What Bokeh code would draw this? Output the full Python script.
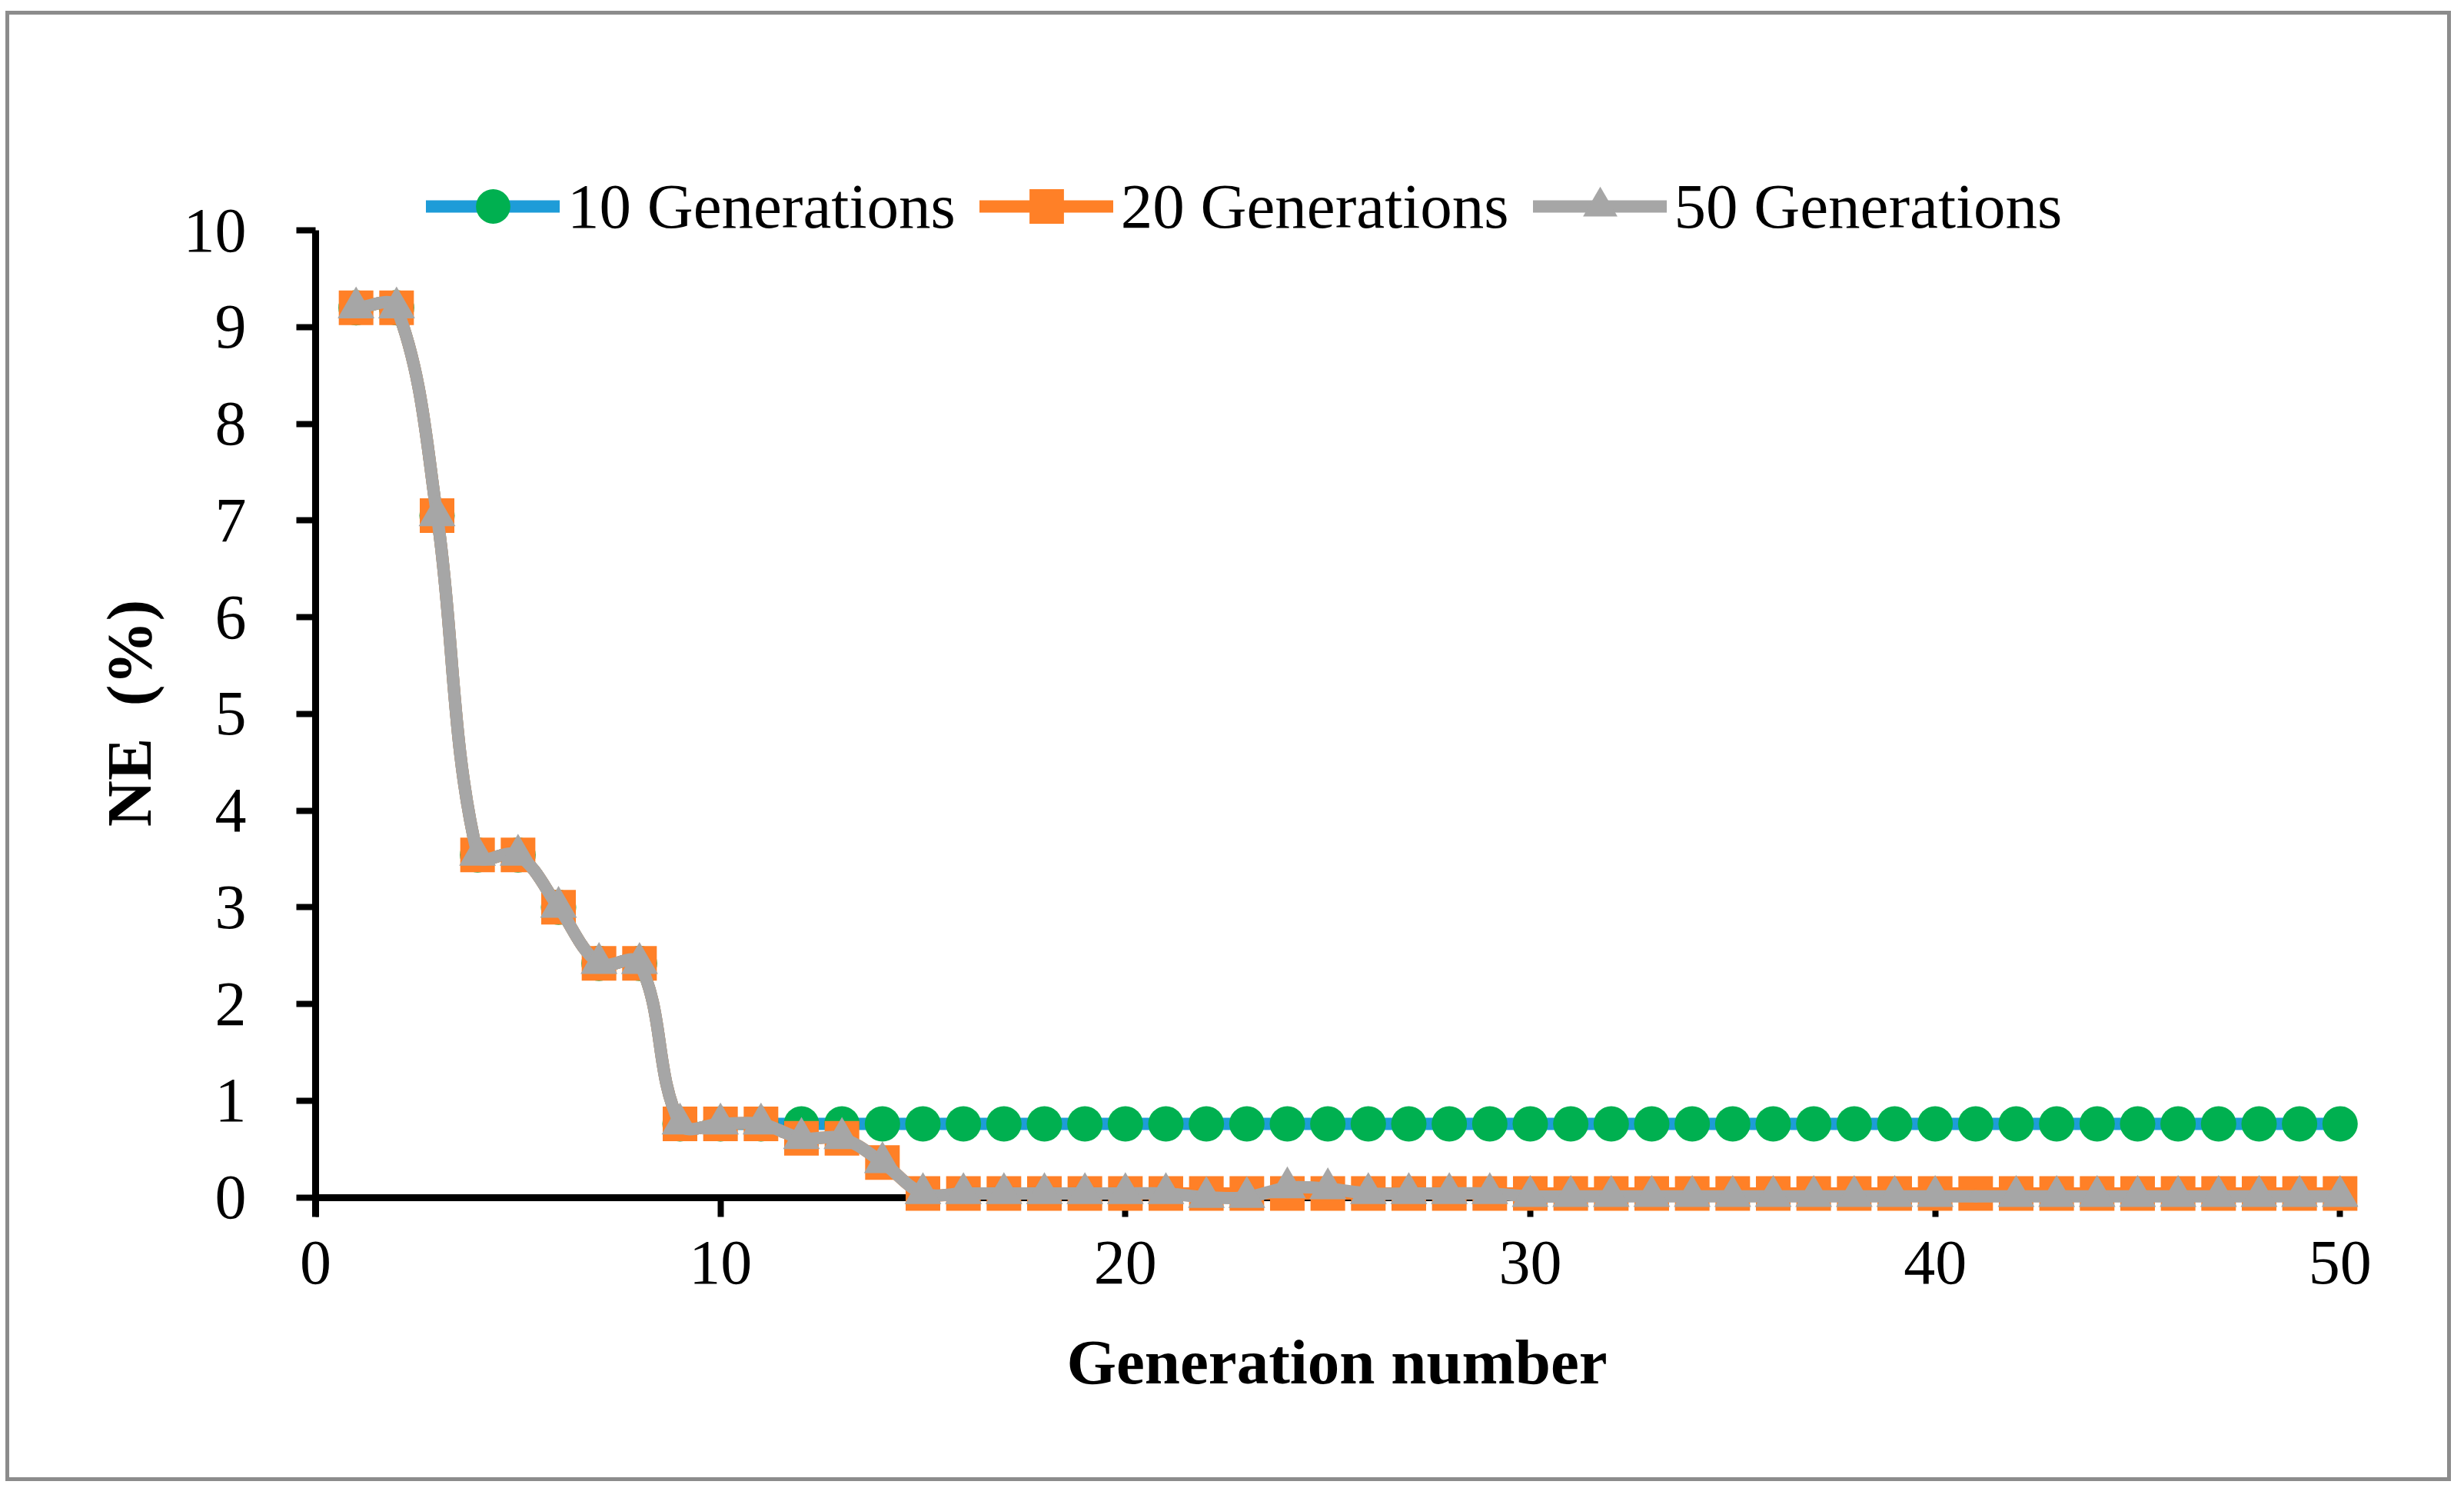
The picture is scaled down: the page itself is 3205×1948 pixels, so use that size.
import math
from bokeh.plotting import figure
from bokeh.layouts import column
from bokeh.models import (Range1d, SingleIntervalTicker, Legend, LegendItem,
                          ColumnDataSource, LinearAxis)
from bokeh.embed import file_html
from bokeh.resources import INLINE

# ---------------- data ----------------
generation = list(range(1, 51))

ne_10 = [9.2, 9.2, 7.05, 3.54, 3.54, 3.0, 2.42, 2.42, 0.76, 0.76,
         0.76, 0.76, 0.76, 0.76, 0.76, 0.76, 0.76, 0.76, 0.76, 0.76,
         0.76, 0.76, 0.76, 0.76, 0.76, 0.76, 0.76, 0.76, 0.76, 0.76,
         0.76, 0.76, 0.76, 0.76, 0.76, 0.76, 0.76, 0.76, 0.76, 0.76,
         0.76, 0.76, 0.76, 0.76, 0.76, 0.76, 0.76, 0.76, 0.76, 0.76]

ne_20 = [9.2, 9.2, 7.05, 3.54, 3.54, 3.0, 2.42, 2.42, 0.76, 0.76,
         0.76, 0.61, 0.61, 0.36, 0.04, 0.04, 0.04, 0.04, 0.04, 0.04,
         0.04, 0.04, 0.04, 0.04, 0.04, 0.04, 0.04, 0.04, 0.04, 0.04,
         0.04, 0.04, 0.04, 0.04, 0.04, 0.04, 0.04, 0.04, 0.04, 0.04,
         0.04, 0.04, 0.04, 0.04, 0.04, 0.04, 0.04, 0.04, 0.04, 0.04]

ne_50 = [9.2, 9.2, 7.05, 3.54, 3.54, 3.0, 2.42, 2.42, 0.76, 0.76,
         0.76, 0.61, 0.61, 0.36, 0.04, 0.04, 0.04, 0.04, 0.04, 0.04,
         0.04, 0.0, 0.0, 0.1, 0.09, 0.04, 0.04, 0.04, 0.04, 0.01,
         0.01, 0.01, 0.01, 0.01, 0.01, 0.01, 0.01, 0.01, 0.01, 0.01,
         0.01, 0.01, 0.01, 0.01, 0.01, 0.01, 0.01, 0.01, 0.01, 0.01]
ne_50_no_marker = [41]   # the reference shows no triangle at generation 41

series_labels = ["10 Generations", "20 Generations", "50 Generations"]
x_tick_interval = 10
y_tick_interval = 1
x_bounds = (0, 50)
y_bounds = (0, 10)

# ---------------- layout / styling ----------------
W, H = 3171, 1902
MB_LEFT, MB_RIGHT, MB_TOP, MB_BOTTOM = 398, 116, 189, 275
X_START, X_END = 0.0, 50.45
Y_START, Y_END = -0.7117, 10.724
FRAME_W = W - MB_LEFT - MB_RIGHT
FRAME_H = H - MB_TOP - MB_BOTTOM
PX_X = FRAME_W / (X_END - X_START)
PX_Y = FRAME_H / (Y_END - Y_START)

BLUE = "#1E9CD8"
GREEN = "#00B050"
ORANGE = "#FF8027"
GRAY = "#A6A6A6"
FONT = "Liberation Serif"


def smooth_source(xs, ys):
    """Excel-like smoothed line drawn as cubic beziers through the data points.
    Tangent at each point is parallel to the chord of its neighbours (in screen
    space); control-point distance is a third of the segment length."""
    n = len(xs)
    sx = [x * PX_X for x in xs]
    sy = [y * PX_Y for y in ys]

    def tangent(i):
        a = max(i - 1, 0)
        b = min(i + 1, n - 1)
        dx, dy = sx[b] - sx[a], sy[b] - sy[a]
        L = math.hypot(dx, dy) or 1.0
        return dx / L, dy / L

    d = dict(x0=[], y0=[], x1=[], y1=[], cx0=[], cy0=[], cx1=[], cy1=[])
    for i in range(n - 1):
        seg = math.hypot(sx[i + 1] - sx[i], sy[i + 1] - sy[i]) / 3.0
        t0 = tangent(i)
        t1 = tangent(i + 1)
        d["x0"].append(xs[i]); d["y0"].append(ys[i])
        d["x1"].append(xs[i + 1]); d["y1"].append(ys[i + 1])
        d["cx0"].append((sx[i] + seg * t0[0]) / PX_X)
        d["cy0"].append((sy[i] + seg * t0[1]) / PX_Y)
        d["cx1"].append((sx[i + 1] - seg * t1[0]) / PX_X)
        d["cy1"].append((sy[i + 1] - seg * t1[1]) / PX_Y)
    return ColumnDataSource(d)


p = figure(width=W, height=H,
           x_range=Range1d(X_START, X_END), y_range=Range1d(Y_START, Y_END),
           output_backend="svg", toolbar_location=None,
           min_border_left=MB_LEFT, min_border_right=MB_RIGHT,
           min_border_top=MB_TOP, min_border_bottom=MB_BOTTOM)
p.background_fill_color = "white"
p.border_fill_color = "white"
p.outline_line_color = None
p.xgrid.visible = False
p.ygrid.visible = False

bez_kw = dict(x0="x0", y0="y0", x1="x1", y1="y1", cx0="cx0", cy0="cy0",
              cx1="cx1", cy1="cy1", line_width=16, line_cap="round")

# series 10
r10_line = p.bezier(source=smooth_source(generation, ne_10), line_color=BLUE, **bez_kw)
r10_pts = p.scatter(generation, ne_10, marker="circle", size=46,
                    fill_color=GREEN, line_color=None)
# series 20
r20_line = p.bezier(source=smooth_source(generation, ne_20), line_color=ORANGE, **bez_kw)
r20_pts = p.scatter(generation, ne_20, marker="square", size=45,
                    fill_color=ORANGE, line_color=None)
# series 50
r50_line = p.bezier(source=smooth_source(generation, ne_50), line_color=GRAY, **bez_kw)
m50_x = [g for g in generation if g not in ne_50_no_marker]
m50_y = [v for g, v in zip(generation, ne_50) if g not in ne_50_no_marker]
r50_pts = p.scatter(m50_x, m50_y, marker="triangle", size=48,
                    fill_color=GRAY, line_color=None)


def style_text(ax):
    ax.major_label_text_font = FONT
    ax.major_label_text_font_size = "82px"
    ax.major_label_text_color = "black"
    ax.axis_label_text_font = FONT
    ax.axis_label_text_font_size = "83px"
    ax.axis_label_text_font_style = "bold"
    ax.axis_label_text_color = "black"
    ax.minor_tick_line_color = None


# y axis (at the frame's left edge = generation 0); its line runs a little
# below 0 like the x tick at 0 in the reference
ya = p.yaxis[0]
ya.ticker = SingleIntervalTicker(interval=y_tick_interval, num_minor_ticks=0)
ya.bounds = (-0.2, y_bounds[1])
ya.axis_line_color = "black"
ya.axis_line_width = 9
ya.major_tick_line_color = "black"
ya.major_tick_line_width = 8
ya.major_tick_in = 0
ya.major_tick_out = 25
style_text(ya)
ya.axis_label = "NE\u00a0\u00a0(%)"
ya.major_label_standoff = 65
ya.axis_label_standoff = 22

# x axis labels + title (at the frame bottom)
xa = p.xaxis[0]
xa.ticker = SingleIntervalTicker(interval=x_tick_interval, num_minor_ticks=0)
xa.bounds = x_bounds
xa.axis_line_color = None
xa.major_tick_line_color = None
xa.major_tick_in = 0
xa.major_tick_out = 0
style_text(xa)
xa.axis_label = "Generation number"
xa.major_label_standoff = -32
xa.axis_label_standoff = 53

# x axis line + ticks at NE = 0, beneath the markers
x0_axis = LinearAxis(fixed_location=0, level="underlay",
                     ticker=SingleIntervalTicker(interval=x_tick_interval, num_minor_ticks=0),
                     bounds=x_bounds, axis_line_color="black", axis_line_width=9,
                     major_tick_line_color="black", major_tick_line_width=8,
                     major_tick_in=0, major_tick_out=25, minor_tick_line_color=None,
                     major_label_text_color=None, major_label_text_font_size="1px",
                     major_label_standoff=0)
p.add_layout(x0_axis, "below")

legend = Legend(items=[
    LegendItem(label=series_labels[0], renderers=[r10_line, r10_pts]),
    LegendItem(label=series_labels[1], renderers=[r20_line, r20_pts]),
    LegendItem(label=series_labels[2], renderers=[r50_line, r50_pts]),
], orientation="horizontal", location=(144, 1322),
    glyph_width=174, glyph_height=112, label_standoff=10, spacing=31,
    padding=0, margin=0, border_line_color=None, background_fill_alpha=0,
    label_text_font=FONT, label_text_font_size="83px", label_text_color="black")
p.add_layout(legend, "center")

page = column(p, styles={"border": "5px solid #8c8c8c",
                         "margin-left": "7px", "margin-top": "14px"})

open("out.html", "w").write(file_html(page, INLINE))
